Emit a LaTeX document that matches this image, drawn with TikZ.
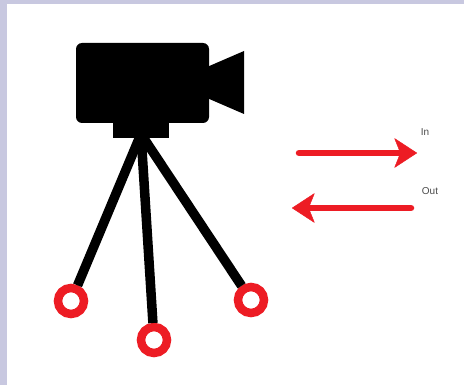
\documentclass[tikz,border=0pt]{standalone}
\usepackage{fontspec}
\setmainfont{Liberation Sans}
\usetikzlibrary{arrows.meta}
\definecolor{bgband}{HTML}{C8C8E0}
\definecolor{arrowred}{HTML}{ED1C24}
\tikzset{
  leg/.style={line width=9.5pt,black},
  ring/.style={circle,draw=arrowred,line width=8.5pt,fill=white,minimum size=26pt,inner sep=0pt,outer sep=4pt},
  flow/.style={line width=6.5pt,arrowred,line cap=round,-{Stealth[length=23pt,width=30pt,inset=6pt,round,line width=0.5pt]}},
  lbl/.style={font=\fontsize{10}{11}\selectfont,text=black!70,inner sep=0pt}
}
\begin{document}
\begin{tikzpicture}[x=1pt,y=-1pt]
\useasboundingbox (0,0) rectangle (464,385);
\fill[bgband] (0,0) rectangle (464,385);
\fill[white] (7,4) rectangle (464,385);
% camera
\fill[black,rounded corners=6pt] (76,43) rectangle (209,123);
\fill[black] (207,67) -- (244,51) -- (244,114) -- (207,98) -- cycle;
\fill[black] (113,120) rectangle (169,138);
% tripod
\coordinate (hub) at (141,134);
\node[ring] (footL) at (71,301) {};
\node[ring] (footM) at (154,340) {};
\node[ring] (footR) at (251,300) {};
\draw[leg] (hub) -- (footL);
\draw[leg] (hub) -- (footM);
\draw[leg] (hub) -- (footR);
% arrows
\coordinate (inA) at (299,153);
\coordinate (inB) at (417,153);
\coordinate (outA) at (411,208);
\coordinate (outB) at (292,208);
\draw[flow] (inA) -- (inB);
\draw[flow] (outA) -- (outB);
\node[lbl] (inlabel) at (425,132.5) {In};
\node[lbl] (outlabel) at (430,191.5) {Out};
\end{tikzpicture}
\end{document}
